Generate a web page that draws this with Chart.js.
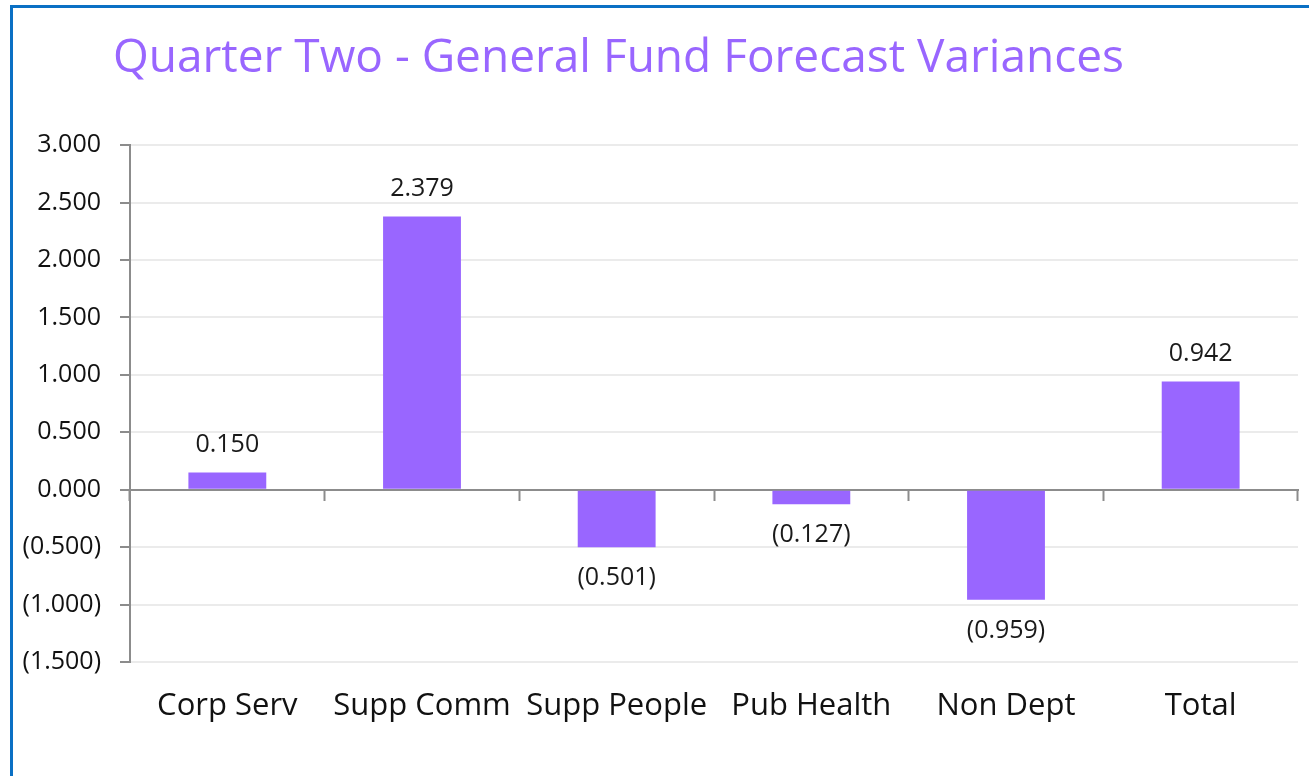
<!DOCTYPE html>
<html>
<head>
<meta charset="utf-8">
<title>Quarter Two - General Fund Forecast Variances</title>
<script src="https://cdn.jsdelivr.net/npm/chart.js@4.4.1/dist/chart.umd.min.js"></script>
<style>
    html, body { margin: 0; padding: 0; background: #fff; }
    #frame { position: relative; width: 1309px; height: 776px; overflow: hidden; }
    #edge {
        position: absolute; left: 10px; top: 5px; right: -10px; bottom: -10px;
        border-left: 3px solid #0a70c4; border-top: 3px solid #0a70c4;
    }
    #chart { position: absolute; left: -61px; top: 0; }
</style>
</head>
<body>
<div id="frame">
    <div id="edge"></div>
    <canvas id="chart" width="1370" height="776"></canvas>
</div>
<script>
// Values in £m.
const categories = ['Corp Serv', 'Supp Comm', 'Supp People', 'Pub Health', 'Non Dept', 'Total'];
const variances = [0.150, 2.379, -0.501, -0.127, -0.959, 0.942];
const yMin = -1.5;
const yMax = 3.0;
const yStep = 0.5;

const PURPLE = 'rgb(153, 102, 255)';
const AXIS_GREY = '#8c8c8c';
const FONT = "'Open Sans', 'Noto Sans', sans-serif";

// Excel accounting style: negatives in brackets
function formatValue(v) {
    const text = Math.abs(v).toFixed(3);
    return v < 0 ? '(' + text + ')' : text;
}

// Value labels above positive bars, below negative ones
const barLabels = {
    id: 'barLabels',
    afterDatasetsDraw(chart) {
        const ctx = chart.ctx;
        const meta = chart.getDatasetMeta(0);
        ctx.save();
        ctx.font = '25px ' + FONT;
        ctx.fillStyle = '#1a1a1a';
        ctx.textAlign = 'center';
        ctx.textBaseline = 'alphabetic';
        meta.data.forEach((bar, i) => {
            const v = variances[i];
            const y = v >= 0 ? bar.y - 21 : bar.y + 38;
            ctx.fillText(formatValue(v), bar.x, y);
        });
        ctx.restore();
    }
};

new Chart(document.getElementById('chart'), {
    type: 'bar',
    data: {
        labels: categories,
        datasets: [{
            data: variances,
            backgroundColor: PURPLE,
            borderWidth: 0,
            categoryPercentage: 1,
            barPercentage: 0.4,
            xAxisID: 'x'
        }]
    },
    options: {
        responsive: false,
        devicePixelRatio: 1,
        animation: false,
        layout: { padding: { left: 0, right: 11, top: 0, bottom: 0 } },
        scales: {
            x: {
                type: 'category',
                position: 'bottom',
                offset: true,
                grid: { display: false, drawTicks: false },
                border: { display: false },
                ticks: {
                    color: '#111',
                    padding: 26,
                    font: { family: FONT, size: 31 }
                },
                afterFit(scale) { scale.height = 114; }
            },
            // second x axis sitting on zero, only for the line and boundary ticks
            x0: {
                type: 'category',
                axis: 'x',
                position: { y: 0 },
                offset: true,
                ticks: { display: false },
                grid: {
                    offset: true,
                    drawOnChartArea: false,
                    drawTicks: true,
                    tickLength: 10,
                    tickWidth: 2,
                    tickColor: AXIS_GREY
                },
                border: { display: true, color: AXIS_GREY, width: 2 }
            },
            y: {
                min: yMin,
                max: yMax,
                grid: {
                    color: (c) => c.tick && c.tick.value === 0 ? 'rgba(0,0,0,0)' : '#ebebeb',
                    lineWidth: 2,
                    tickLength: 10,
                    tickWidth: 2,
                    tickColor: AXIS_GREY
                },
                border: { display: true, color: AXIS_GREY, width: 2 },
                ticks: {
                    stepSize: yStep,
                    color: '#111',
                    padding: 19,
                    font: { family: FONT, size: 25 },
                    callback: (v) => formatValue(v)
                },
                afterFit(scale) { scale.width = 191; }
            }
        },
        plugins: {
            legend: { display: false },
            tooltip: { enabled: false },
            title: {
                display: true,
                text: 'Quarter Two - General Fund Forecast Variances',
                color: PURPLE,
                font: { family: FONT, size: 46, weight: 'normal', lineHeight: 1.2 },
                padding: { top: 31, bottom: 59 }
            }
        }
    },
    plugins: [barLabels]
});
</script>
</body>
</html>
